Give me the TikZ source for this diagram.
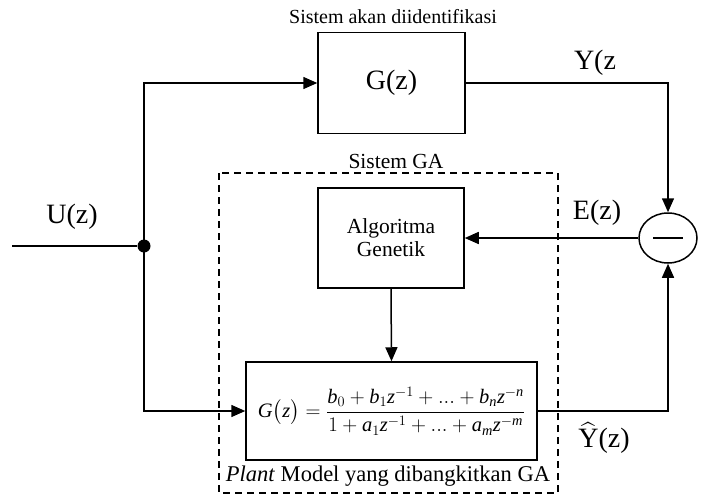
\documentclass[tikz,border=0pt]{standalone}
\usepackage{amsmath}
\usepackage{fontspec}
\setmainfont{Liberation Serif}
\usetikzlibrary{arrows.meta,shapes.geometric}
\newcommand{\vi}[1]{\mathit{#1}}
\tikzset{
  blk/.style={draw,line width=1.5pt,rectangle,inner sep=0pt},
  sig/.style={line width=1.5pt,-{Triangle[length=14pt,width=12pt]}},
  wire/.style={line width=1.5pt},
  big/.style={font=\fontsize{28}{30}\selectfont},
  small/.style={font=\fontsize{21.5}{23}\selectfont},
}
\begin{document}
\begin{tikzpicture}[x=1pt,y=-1pt]
\useasboundingbox (0,0) rectangle (706,495);
% dashed GA system
\draw[line width=2pt,dash pattern=on 7pt off 5pt] (219,173) rectangle (558,493);
% blocks
\node[blk,minimum width=147pt,minimum height=101pt,big] (gz) at (391.5,83) {G(z)};
\node[blk,minimum width=146pt,minimum height=100pt,small,align=center] (ag) at (391,238) {Algoritma\\Genetik};
\node[blk,minimum width=291pt,minimum height=98pt,font=\fontsize{20.5}{22}\selectfont] (pm) at (391.5,411)
  {$\vi{G}\bigl(\vi{z}\bigr)=\dfrac{\vi{b}_0+\vi{b}_1\vi{z}^{-1}+...+\vi{b}_{\vi{n}}\vi{z}^{-\vi{n}}}{1+\vi{a}_1\vi{z}^{-1}+...+\vi{a}_{\vi{m}}\vi{z}^{-\vi{m}}}$};
\node[draw,ellipse,line width=1.5pt,minimum width=58pt,minimum height=50pt,inner sep=0pt] (sum) at (668,238) {};
\draw[line width=1.5pt] ([xshift=-15pt]sum.center) -- ([xshift=15pt]sum.center);
% split point
\coordinate (in) at (12,246);
\node[circle,fill,inner sep=0pt,minimum size=13pt] (dot) at (144,246) {};
% connectors
\draw[wire] (in) -- (dot);
\draw[sig] (dot.center) |- (gz.west);
\draw[sig] (dot.center) |- (pm.west);
\draw[sig] (gz.east) -| (sum.north);
\draw[sig] (pm.east) -| (sum.south);
\draw[sig] (sum.west) -- (ag.east);
\draw[sig] (ag.south) -- (pm.north);
% labels
\node[font=\fontsize{20}{22}\selectfont] (t1) at (393,17) {Sistem akan diidentifikasi};
\node[small] (t2) at (396,161) {Sistem GA};
\node[font=\fontsize{22.5}{24}\selectfont] (t3) at (388,476) {\textit{Plant} Model yang dibangkitkan GA};
\node[big] (lu) at (72,217) {U(z)};
\node[big] (le) at (597,213) {E(z)};
\node[big] (ly) at (595,63) {Y(z};
\node[big,inner sep=1pt] (lyh) at (604,438) {$\widehat{\mbox{Y}}$(z)};
\end{tikzpicture}
\end{document}
